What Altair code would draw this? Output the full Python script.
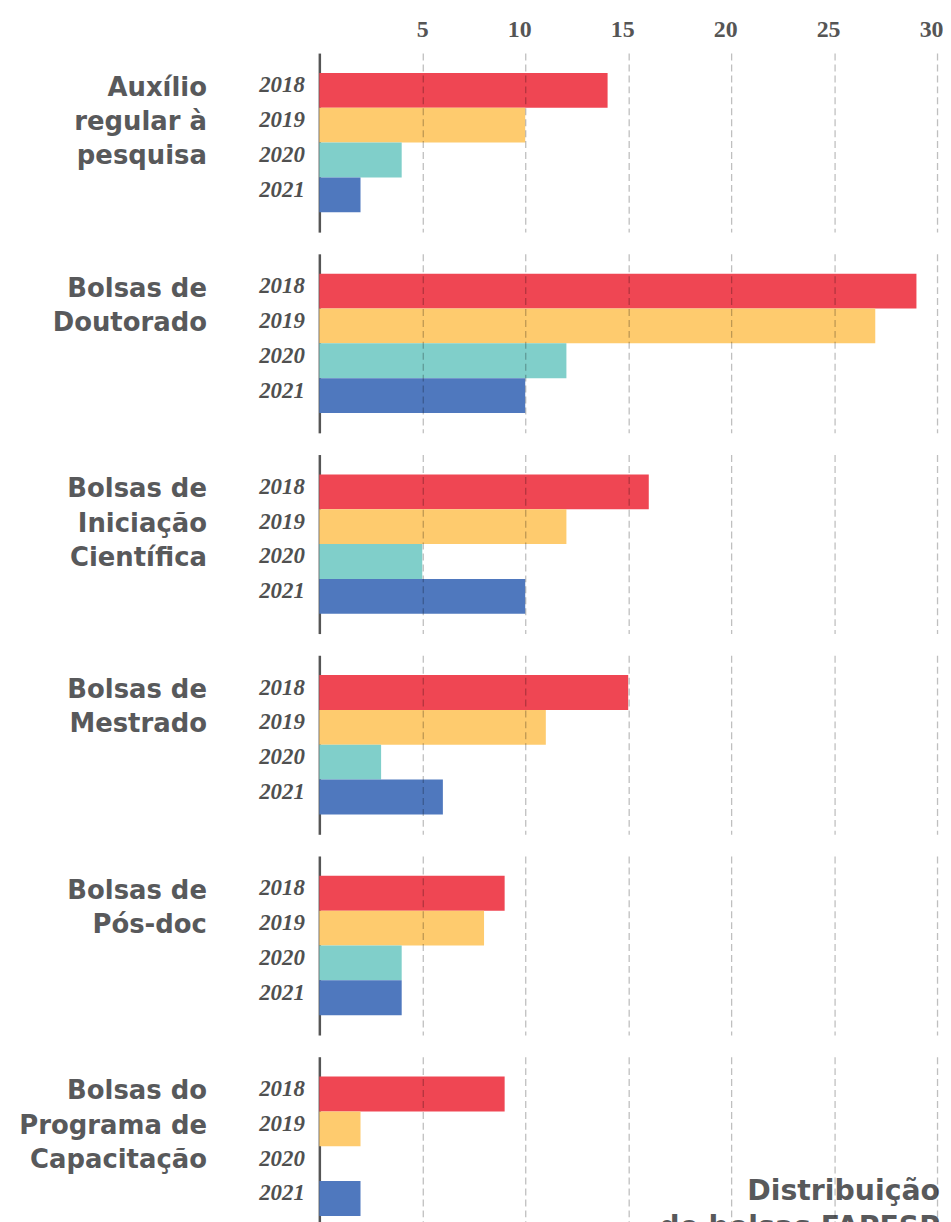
import altair as alt
import pandas as pd

categories = [
    "Auxílio\nregular à\npesquisa",
    "Bolsas de\nDoutorado",
    "Bolsas de\nIniciação\nCientífica",
    "Bolsas de\nMestrado",
    "Bolsas de\nPós-doc",
    "Bolsas do\nPrograma de\nCapacitação",
]
years = ["2018", "2019", "2020", "2021"]
values_2018 = [14, 29, 16, 15, 9, 9]
values_2019 = [10, 27, 12, 11, 8, 2]
values_2020 = [4, 12, 5, 3, 4, 0]
values_2021 = [2, 10, 10, 6, 4, 2]
colors = ["#EF4653", "#FECB6E", "#80CFCA", "#4F78BE"]
x_ticks = [5, 10, 15, 20, 25, 30]
title_text = "Distribuição\nde bolsas FAPESP"

rows = []
for i, c in enumerate(categories):
    for y, vals in zip(years, [values_2018, values_2019, values_2020, values_2021]):
        rows.append({"categoria": c, "ano": y, "valor": vals[i], "idx": i,
                     "titulo": title_text})
df = pd.DataFrame(rows)

xscale = alt.Scale(domain=[0, 30], nice=False)
yscale = alt.Scale(domain=years, paddingInner=0, paddingOuter=0.57)
SANS = "DejaVu Sans"


def panel(i):
    first = i == 0
    base = alt.Chart(df).transform_filter(f"datum.idx == {i}")
    bars = base.mark_bar(size=35).encode(
        x=alt.X("valor:Q", scale=xscale,
                axis=alt.Axis(orient="top", values=x_ticks, title=None,
                              domain=False, ticks=False, labels=first,
                              labelFlush=False, labelAlign="right",
                              labelOffset=6,
                              labelPadding=12, labelFont="Liberation Serif",
                              labelFontWeight="bold", labelFontSize=24,
                              labelColor="#555555",
                              grid=True, gridColor="#000000", gridOpacity=0.25,
                              gridDash=[7, 4], gridWidth=1.3, zindex=1)),
        y=alt.Y("ano:N", scale=yscale,
                axis=alt.Axis(title=None, ticks=False, domain=True,
                              domainColor="#555555", domainWidth=2.5,
                              labelPadding=15, labelOffset=-5,
                              labelFont="Liberation Serif",
                              labelFontStyle="italic", labelFontWeight="bold",
                              labelFontSize=23, labelColor="#505050")),
        color=alt.Color("ano:N", scale=alt.Scale(domain=years, range=colors),
                        legend=None),
    )
    label = base.transform_filter("datum.ano == '2018'").mark_text(
        align="right", baseline="middle", lineBreak="\n", lineHeight=34.5,
        font=SANS, fontWeight="bold", fontSize=26, color="#58595B"
    ).encode(
        x=alt.value(-113),
        y=alt.value(35),
        text="categoria:N",
    )
    layers = [bars, label]
    if i == len(categories) - 1:
        title = base.transform_filter("datum.ano == '2018'").mark_text(
            align="right", baseline="middle", lineBreak="\n", lineHeight=36,
            font=SANS, fontWeight="bold", fontSize=28.5, color="#58595B"
        ).encode(
            x=alt.value(624),
            y=alt.value(135),
            text="titulo:N",
        )
        layers.append(title)
    return alt.layer(*layers).properties(width=621, height=180)


chart = alt.vconcat(
    *[panel(i) for i in range(len(categories))], spacing=21.8
).properties(
    background="white",
    padding={"left": 11, "top": 6, "right": 0, "bottom": 5},
).configure_view(stroke="transparent", strokeWidth=0)

chart.save("out.html", embed_options={"renderer": "svg", "actions": False})
